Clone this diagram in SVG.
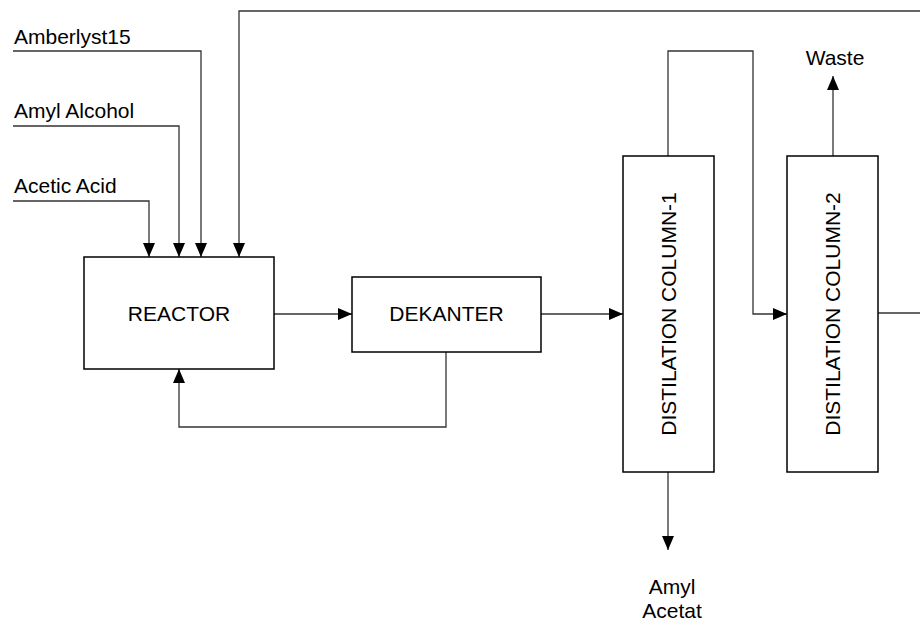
<svg xmlns="http://www.w3.org/2000/svg" width="920" height="621" viewBox="0 0 920 621">
<style>
text{font-family:"Liberation Sans",Arial,sans-serif;font-size:21px;fill:#000}
.box{fill:#fff;stroke:#000;stroke-width:1.5}
.c{fill:none;stroke:#333;stroke-width:1.3}
.m{text-anchor:middle}
</style>
<defs>
<marker id="ah" markerUnits="userSpaceOnUse" markerWidth="14" markerHeight="12" refX="14" refY="6" orient="auto">
<path d="M0,0 L14,6 L0,12 Z" fill="#000"/>
</marker>
</defs>
<rect width="920" height="621" fill="#fff"/>
<g id="connectors">
<path class="c" d="M13,51 H201 V257" marker-end="url(#ah)"/>
<path class="c" d="M13,126 H179 V257" marker-end="url(#ah)"/>
<path class="c" d="M13,201 H149 V257" marker-end="url(#ah)"/>
<path class="c" d="M920,11 H239 V257" marker-end="url(#ah)"/>
<path class="c" d="M274,314 H352" marker-end="url(#ah)"/>
<path class="c" d="M541,314 H623" marker-end="url(#ah)"/>
<path class="c" d="M446,352 V427 H179 V369" marker-end="url(#ah)"/>
<path class="c" d="M668,156 V51 H753 V314 H787" marker-end="url(#ah)"/>
<path class="c" d="M833,156 V76" marker-end="url(#ah)"/>
<path class="c" d="M668,472 V550" marker-end="url(#ah)"/>
<path class="c" d="M878,313 H920"/>
</g>
<g id="label-amberlyst"><text x="14" y="44">Amberlyst15</text></g>
<g id="label-amyl-alcohol"><text x="14" y="118">Amyl Alcohol</text></g>
<g id="label-acetic-acid"><text x="14" y="193">Acetic Acid</text></g>
<g id="reactor"><rect class="box" x="84" y="257" width="190" height="112"/><text class="m" x="179" y="321">REACTOR</text></g>
<g id="dekanter"><rect class="box" x="352" y="277" width="189" height="75"/><text class="m" x="446.5" y="321">DEKANTER</text></g>
<g id="column1"><rect class="box" x="623" y="156" width="91" height="316"/><text class="m" transform="translate(676,314) rotate(-90)">DISTILATION COLUMN-1</text></g>
<g id="column2"><rect class="box" x="787" y="156" width="91" height="316"/><text class="m" transform="translate(840,314) rotate(-90)">DISTILATION COLUMN-2</text></g>
<g id="label-waste"><text class="m" x="835" y="65">Waste</text></g>
<g id="label-amyl-acetat"><text class="m" x="672" y="594">Amyl</text><text class="m" x="672" y="618">Acetat</text></g>
</svg>
